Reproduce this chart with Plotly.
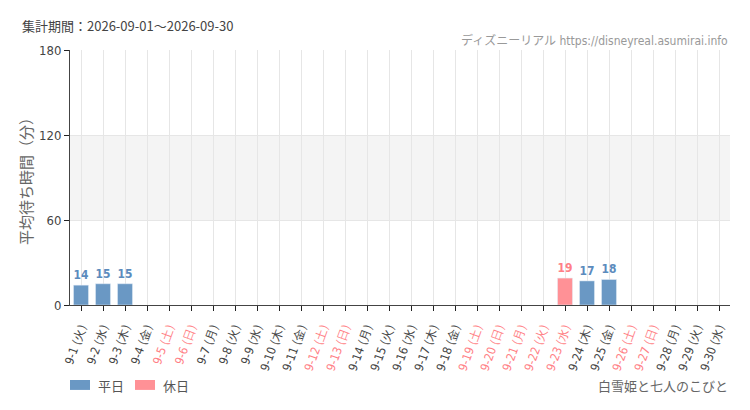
import plotly.graph_objects as go

days = [f"9-{d}" for d in range(1, 31)]
weekdays = (["火", "水", "木", "金", "土", "日", "月"] * 5)[:30]
holidays = ["9-5", "9-6", "9-12", "9-13", "9-19", "9-20", "9-21", "9-22", "9-23", "9-26", "9-27"]
wait_minutes = {"9-1": 14, "9-2": 15, "9-3": 15, "9-23": 19, "9-24": 17, "9-25": 18}
legend_names = ["平日", "休日"]

BLUE = "#6a98c4"
PINK = "#ff9196"
BLUE_TXT = "#5b8bbd"
PINK_TXT = "#ff7f86"

weekday_vals = [None if d in holidays else wait_minutes.get(d) for d in days]
holiday_vals = [wait_minutes.get(d) if d in holidays else None for d in days]

ticktext = []
for d, w in zip(days, weekdays):
    label = f"{d} ({w})"
    if d in holidays:
        label = f"<span style='color:{PINK_TXT}'>{label}</span>"
    ticktext.append(label)

num_font = dict(family="DejaVu Sans Condensed, Liberation Sans Narrow, sans-serif", size=15, weight="bold")

fig = go.Figure()
fig.add_trace(go.Bar(
    x=days, y=weekday_vals, name=legend_names[0], marker_color=BLUE, width=0.68,
    text=weekday_vals, textposition="outside", cliponaxis=False,
    textfont=dict(color=BLUE_TXT, **num_font),
))
fig.add_trace(go.Bar(
    x=days, y=holiday_vals, name=legend_names[1], marker_color=PINK, width=0.68,
    text=holiday_vals, textposition="outside", cliponaxis=False,
    textfont=dict(color=PINK_TXT, **num_font),
))

# gray band 60-120
fig.add_shape(type="rect", xref="paper", yref="y", x0=0, x1=1, y0=60, y1=120,
              fillcolor="#f4f4f4", line_width=0, layer="below")

# page body has an 8px margin, so margins are shifted to compensate
fig.update_layout(
    width=750, height=410,
    margin=dict(l=62, r=28, t=42, b=113),
    paper_bgcolor="white", plot_bgcolor="white",
    barmode="overlay", showlegend=False,
    font=dict(family="Noto Sans CJK JP, sans-serif", color="#555555", size=12),
    xaxis=dict(
        tickmode="array", tickvals=days, ticktext=ticktext, tickangle=-70,
        showgrid=True, gridcolor="#e6e6e6", ticks="outside", ticklen=5,
        tickcolor="#222222", showline=True, linecolor="#444444", automargin=False,
        ticklabelstandoff=5,
        tickfont=dict(family="DejaVu Sans Condensed, sans-serif", size=12, color="#444444"),
    ),
    yaxis=dict(
        range=[0, 180], tickvals=[0, 60, 120, 180], showgrid=True,
        gridcolor="#e6e6e6", ticks="outside", ticklen=5, tickcolor="#222222",
        showline=True, linecolor="#444444", zeroline=False, automargin=False,
        tickfont=dict(family="DejaVu Sans Condensed, sans-serif", size=13, color="#444444"),
        title=dict(text="平均待ち時間（分）", font=dict(size=15, color="#666666"), standoff=2),
    ),
)

fig.add_annotation(text="集計期間：2026-09-01～2026-09-30", xref="paper", yref="paper",
                   x=-0.076, y=1.098, xanchor="left", yanchor="middle", showarrow=False,
                   font=dict(size=13, color="#444444"))
fig.add_annotation(text="ディズニーリアル https://disneyreal.asumirai.info", xref="paper", yref="paper",
                   x=1.0, y=1.039, xanchor="right", yanchor="middle", showarrow=False,
                   font=dict(family="DejaVu Sans Condensed, Noto Sans CJK JP, sans-serif", size=12, color="#999999"))
fig.add_annotation(text="白雪姫と七人のこびと", xref="paper", yref="paper",
                   x=1.0, y=-0.314, xanchor="right", yanchor="middle", showarrow=False,
                   font=dict(size=13, color="#666666"))

# legend drawn by hand (wide swatches)
for i, (name, color) in enumerate(zip(legend_names, [BLUE, PINK])):
    x0 = i * 65 / 660
    fig.add_shape(type="rect", xref="paper", yref="paper", x0=x0, x1=x0 + 20 / 660,
                  y0=-0.333, y1=-0.294, fillcolor=color, line_width=0)
    fig.add_annotation(text=name, xref="paper", yref="paper", x=x0 + 26 / 660, y=-0.314,
                       xanchor="left", yanchor="middle", showarrow=False,
                       font=dict(size=13, color="#555555"))

fig.write_html("out.html")
